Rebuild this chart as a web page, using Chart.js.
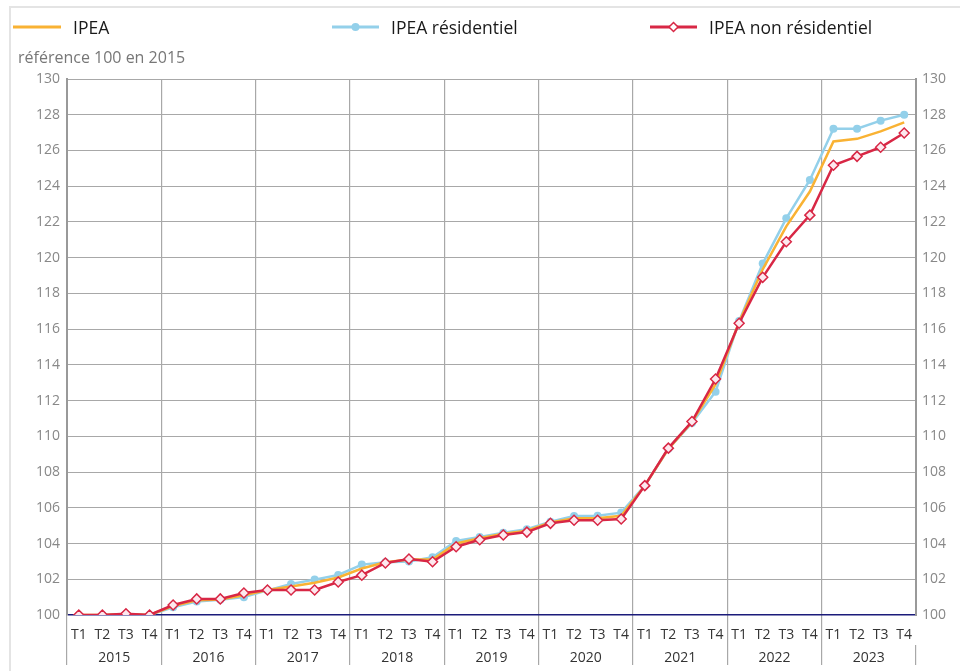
<!DOCTYPE html>
<html>
<head>
<meta charset="utf-8">
<script src="https://cdn.jsdelivr.net/npm/chart.js@4/dist/chart.umd.min.js"></script>
<style>
  body { margin: 0; background: #fff; font-family: "Open Sans", sans-serif; overflow: hidden; }
  #wrap { position: relative; width: 960px; height: 671px; }
  #frame { position: absolute; left: 9px; top: 6px; width: 2000px; height: 2000px;
           border-left: 2px solid #e4e4e4; border-top: 2px solid #e4e4e4; }
  canvas { position: absolute; left: 0; top: 0; }
  .leg { position: absolute; top: 16px; height: 22px; display: flex; align-items: center;
         font-size: 17.5px; color: #1a1a1a; }
  .leg svg { margin-right: 12px; }
  #unit { position: absolute; left: 18px; top: 47px; font-size: 16px; color: #777; line-height: 20px; }
</style>
</head>
<body>
<div id="wrap">
  <div id="frame"></div>
  <canvas id="line-chart" width="960" height="671"></canvas>
  <div class="leg" style="left:13px">
    <svg width="48" height="12"><line x1="0" y1="6" x2="48" y2="6" stroke="#f9b233" stroke-width="3"/></svg>IPEA
  </div>
  <div class="leg" style="left:332px">
    <svg width="47" height="12"><line x1="0" y1="6" x2="47" y2="6" stroke="#93d0ea" stroke-width="3"/><circle cx="23.5" cy="6" r="4" fill="#93d0ea"/></svg>IPEA résidentiel
  </div>
  <div class="leg" style="left:650px">
    <svg width="47" height="12"><line x1="0" y1="6" x2="47" y2="6" stroke="#d82745" stroke-width="3"/><polygon points="23.5,1.5 28,6 23.5,10.5 19,6" fill="#fff" stroke="#d82745" stroke-width="1.5"/></svg>IPEA non résidentiel
  </div>
  <div id="unit">référence 100 en 2015</div>
</div>
<script>
const years = ["2015", "2016", "2017", "2018", "2019", "2020", "2021", "2022", "2023"];
const quarters = years.flatMap(() => ["T1", "T2", "T3", "T4"]);

const ipea = [
  100, 100, 100.05, 100,
  100.5, 100.82, 100.87, 101.1,
  101.4, 101.6, 101.8, 102.1,
  102.6, 102.95, 103.1, 103.1,
  104.0, 104.3, 104.55, 104.72,
  105.18, 105.42, 105.42, 105.55,
  107.24, 109.3, 110.8, 112.9,
  116.4, 119.35, 121.75, 123.7,
  126.5, 126.65, 127.07, 127.57
];
const ipeaResidentiel = [
  99.98, 100, 100.05, 100,
  100.43, 100.75, 100.85, 101.0,
  101.38, 101.73, 101.98, 102.24,
  102.82, 102.95, 103.0, 103.23,
  104.14, 104.36, 104.61, 104.8,
  105.22, 105.54, 105.55, 105.73,
  107.24, 109.3, 110.75, 112.5,
  116.45, 119.67, 122.2, 124.35,
  127.22, 127.22, 127.67, 128.0
];
const ipeaNonResidentiel = [
  100, 100, 100.07, 100,
  100.56, 100.9, 100.9, 101.23,
  101.4, 101.4, 101.4, 101.85,
  102.23, 102.91, 103.13, 102.98,
  103.82, 104.21, 104.48, 104.64,
  105.13, 105.3, 105.3, 105.37,
  107.24, 109.34, 110.83, 113.21,
  116.33, 118.9, 120.89, 122.38,
  125.17, 125.67, 126.18, 126.98
];

const yMin = 100, yMax = 130, yStep = 2;
const gridGray = "#a8a8a8";
const tickFont = { family: "Open Sans", size: 14 };

new Chart(document.getElementById("line-chart"), {
  type: "line",
  data: {
    labels: quarters,
    datasets: [{
        data: ipeaNonResidentiel,
        label: "IPEA non résidentiel",
        borderColor: "#d82745",
        borderWidth: 2.5,
        pointStyle: "rectRot",
        pointRadius: 5,
        pointBackgroundColor: "#fde8ee",
        pointBorderColor: "#d82745",
        pointBorderWidth: 1.5,
        order: 1
      }, {
        data: ipea,
        label: "IPEA",
        borderColor: "#f9b233",
        borderWidth: 2.5,
        pointRadius: 0,
        order: 2
      }, {
        data: ipeaResidentiel,
        label: "IPEA résidentiel",
        borderColor: "#93d0ea",
        borderWidth: 2.5,
        pointRadius: 4,
        pointBackgroundColor: "#93d0ea",
        pointBorderWidth: 0,
        order: 3
      }
    ]
  },
  options: {
    responsive: false,
    animation: false,
    layout: { padding: { top: 79, left: 0, right: 0, bottom: 0 } },
    plugins: { legend: { display: false }, tooltip: { enabled: false } },
    elements: { line: { tension: 0 } },
    scales: {
      x: {
        offset: true,
        afterFit: s => { s.height = 30; },
        border: { display: false },
        grid: {
          offset: true,
          drawTicks: true,
          tickLength: 30,
          lineWidth: 1.2,
          color: c => (c.index % 4 === 0 ? gridGray : "rgba(0,0,0,0)")
        },
        ticks: { autoSkip: false, maxRotation: 0, padding: -18, color: "#333", font: tickFont }
      },
      x2: {
        type: "category",
        labels: years,
        position: "bottom",
        offset: true,
        afterFit: s => { s.height = 26; },
        border: { display: false },
        grid: { offset: true, drawOnChartArea: false, tickLength: 20, lineWidth: 1.2, color: gridGray },
        ticks: { autoSkip: false, maxRotation: 0, padding: -15, color: "#333", font: tickFont }
      },
      y: {
        min: yMin, max: yMax,
        afterFit: s => { s.width = 67; },
        border: { color: "#999", width: 2 },
        grid: {
          drawTicks: false,
          color: c => (c.tick && c.tick.value === 100 ? "#1b1b7a" : gridGray),
          lineWidth: c => (c.tick && c.tick.value === 100 ? 1.5 : 1)
        },
        ticks: { stepSize: yStep, padding: 7, color: "#888", font: tickFont }
      },
      y1: {
        position: "right",
        min: yMin, max: yMax,
        afterFit: s => { s.width = 44; },
        border: { color: "#999", width: 2 },
        grid: { display: false, drawTicks: false },
        ticks: { stepSize: yStep, padding: 6, color: "#888", font: tickFont }
      }
    }
  }
});
</script>
</body>
</html>
